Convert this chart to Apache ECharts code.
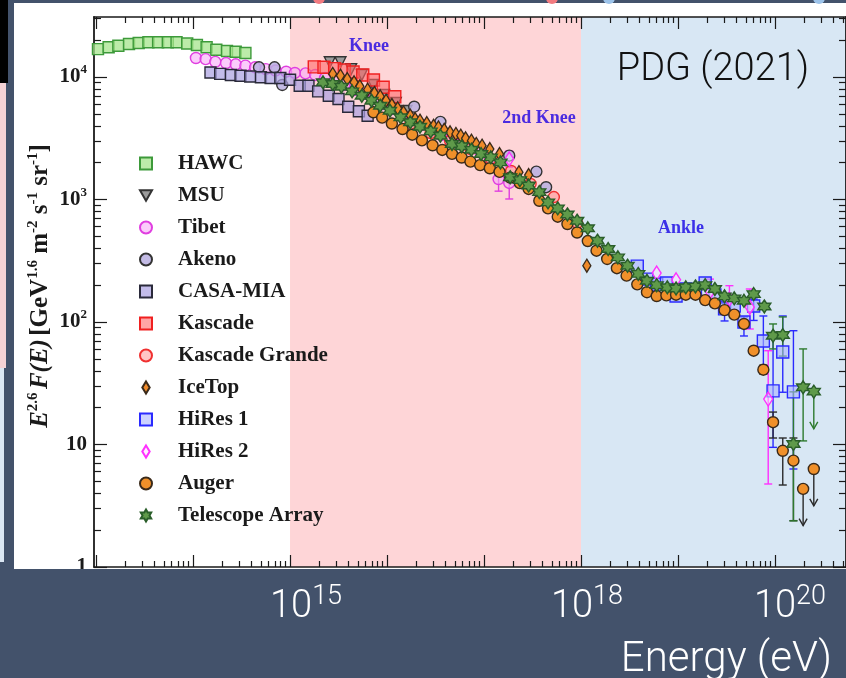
<!DOCTYPE html>
<html>
<head>
<meta charset="utf-8">
<script src="https://cdn.jsdelivr.net/npm/echarts@6/dist/echarts.min.js"></script>
<style>
html,body{margin:0;padding:0;background:#fff;}
#c{width:846px;height:678px;}
</style>
</head>
<body>
<div id="c"></div>
<script>
// Cosmic-ray all-particle spectrum, E^2.6 F(E) in GeV^1.6 m^-2 s^-1 sr^-1.
// Energies are kept as log10(E / eV).

const hawcLgE = [13.02,13.13,13.23,13.34,13.44,13.54,13.64,13.74,13.83,13.94,14.04,14.14,14.24,14.35,14.44,14.54];
const hawcFlux = [16900,17500,18000,18600,18950,19200,19200,19200,19200,18800,18250,17500,16700,16300,16100,15700];

const msuLgE = [15.41,15.52,15.63,15.74,15.86,15.97,16.09,16.20];
const msuFlux = [13200,13200,11600,10400,8610,7130,6140,5280];

const tibetLgE = [14.03,14.13,14.23,14.34,14.44,14.54,14.64,14.75,14.85,14.96,15.05,15.16,15.26,15.36,15.46,15.56,15.66,15.76,15.86,15.96,16.06,16.16,16.26,16.36,16.46,16.56,16.66,16.76,16.86,16.96,17.06,17.15,17.26];
const tibetFlux = [14300,14000,13300,13000,12700,12400,12000,11600,11300,11050,10800,10700,10400,9810,9280,8600,7830,7270,6610,6020,5480,4890,4460,4060,3690,3360,3060,2840,2630,2440,2140,1470,1365];
const tibetErr = [[17.15,1770,1170],[17.26,1610,1010]];

const akenoLgE = [14.68,14.84,14.92,16.28,16.55,17.26,17.54,17.64];
const akenoFlux = [12000,12000,8610,5720,4300,2280,1690,1260];

const casaLgE = [14.18,14.28,14.39,14.49,14.59,14.70,14.80,14.90,15.00,15.10,15.19,15.29,15.40,15.50,15.60,15.71,15.80];
const casaFlux = [10900,10600,10400,10250,10100,9950,9810,9810,9510,8490,8490,7640,7030,6610,5720,5250,4830];

const kascadeLgE = [15.25,15.35,15.46,15.56,15.65,15.75,15.86,15.96,16.08];
const kascadeFlux = [12100,12000,11700,11400,11000,10400,9460,8240,6900];

const kgLgE = [16.24,16.45,16.65,16.86,17.07,17.28,17.48,17.72,17.96];
const kgFlux = [4130,3490,3000,2580,2140,1710,1340,1047,643];

const icetopLgE = [15.44,15.52,15.59,15.66,15.72,15.80,15.87,15.93,15.99,16.05,16.11,16.17,16.24,16.29,16.34,16.41,16.48,16.53,16.59,16.65,16.71,16.76,16.81,16.87,16.92,16.98,17.06,17.16,17.36,17.46,18.06];
const icetopFlux = [10600,10250,9630,9060,8400,7880,7400,6950,6410,5910,5550,5150,4830,4540,4400,4210,4000,3880,3710,3540,3430,3320,3160,3020,2840,2750,2580,2350,1670,1585,288];

const hires1LgE = [18.58,18.68,18.78,18.88,18.98,19.08,19.18,19.28,19.38,19.48,19.58,19.68,19.78,19.88,19.98,20.08,20.19];
const hires1Flux = [286,224,204,208,163,186,179,208,166,128,135,100,135,70.0,27.4,56.9,26.9];
const hires1Err = [[19.48,148,102],[19.68,110,76.9],[19.78,154,103],[19.88,112,44.0],[19.98,77.3,9.48],[20.08,112,26.7],[20.19,84.9,6.31]];

const hires2LgE = [17.26,18.78,18.98,19.33,19.53,19.74,19.93];
const hires2Flux = [2140,251,221,176,154,132,23.5];
const hires2Err = [[17.26,2490,1840],[19.33,224,140],[19.53,198,116],[19.74,186,87.7],[19.93,58.3,4.76]];

const augerLgE = [15.86,15.95,16.05,16.16,16.26,16.36,16.47,16.57,16.67,16.77,16.86,16.96,17.06,17.16,17.27,17.37,17.46,17.57,17.66,17.76,17.86,17.96,18.07,18.16,18.27,18.37,18.47,18.58,18.68,18.78,18.88,18.98,19.08,19.18,19.28,19.38,19.48,19.58,19.68,19.78,19.88,19.98,20.08,20.19,20.29,20.40];
const augerFlux = [5150,4660,4170,3760,3380,3040,2770,2540,2360,2200,2040,1910,1800,1680,1510,1360,1220,977,847,724,631,538,458,382,327,275,239,203,175,163,165,167,167,167,151,142,125,115,96.4,58.3,40.8,15.2,8.89,7.38,4.34,6.31];
const augerErr = [[19.88,44.5,37.5],[19.98,18.4,11.3],[20.08,11.3,4.67],[20.19,11.3,2.39]];
const augerLimits = [[20.29,4.34,2.18],[20.40,6.31,3.16]];

const taLgE = [15.34,15.44,15.53,15.64,15.74,15.84,15.93,16.03,16.14,16.24,16.34,16.45,16.55,16.67,16.77,16.87,16.97,17.07,17.17,17.27,17.37,17.46,17.57,17.66,17.76,17.86,17.96,18.07,18.17,18.28,18.38,18.48,18.59,18.68,18.78,18.89,18.98,19.08,19.18,19.28,19.38,19.48,19.58,19.68,19.78,19.89,19.98,20.08,20.19,20.29,20.40];
const taFlux = [9060,8770,8340,7640,7030,6410,5830,5310,4690,4270,3930,3600,3320,2840,2720,2550,2350,2210,2010,1520,1440,1300,1150,948,847,755,671,582,461,394,337,288,247,217,200,192,188,192,195,200,186,162,156,149,169,134,77.3,78.3,10.1,29.3,27.0];
const taErr = [[19.98,96.4,60.3],[20.08,110,52.7],[20.19,26.9,2.38],[20.29,60.3,10.7]];
const taLimits = [[20.40,27.0,13.4]];

// axis decades
const xDecades = [13,14,15,16,17,18,19,20];
const yDecades = [0,1,2,3,4];
const xLabelDecades = [15,18,20];

// ---------------------------------------------------------------------------
const toE = lg => Math.pow(10, lg);
const points = (lg, f) => lg.map((e, i) => [toE(e), f[i]]);
const ranges = rows => rows.map(r => [toE(r[0]), r[1], r[2]]);

const X_MIN = Math.pow(10, 12.979), X_MAX = Math.pow(10, 20.732);
const Y_MIN = 1, Y_MAX = Math.pow(10, 4.49);

const xMajor = xDecades.map(toE);
const xMinor = [];
for (let n = 12; n <= 20; n++) for (let k = 2; k <= 9; k++) {
  const v = k * Math.pow(10, n);
  if (v > X_MIN && v < X_MAX) xMinor.push(v);
}
const yMajor = yDecades.map(toE);
const yMinor = [];
for (let n = 0; n <= 4; n++) for (let k = 2; k <= 9; k++) {
  const v = k * Math.pow(10, n);
  if (v < Y_MAX) yMinor.push(v);
}

const SERIF = '"Liberation Serif", "DejaVu Serif", serif';
const SANS = 'Roboto, "Liberation Sans", sans-serif';
const INK = '#1a1a1a';

// marker outlines
const hexagram = 'path://M0,-10 L2.9,-5 L8.66,-5 L5.8,0 L8.66,5 L2.9,5 L0,10 L-2.9,5 L-8.66,5 L-5.8,0 L-8.66,-5 L-2.9,-5 Z';
const downTriangle = 'path://M-5,-4.3 L5,-4.3 L0,4.3 Z';
const tallDiamond = 'path://M0,-13 L8,0 L0,13 L-8,0 Z';

const styles = [
  {name:'HAWC', lg:hawcLgE, f:hawcFlux, symbol:'rect', size:11, fill:'rgba(165,228,140,0.75)', stroke:'#3d9a3a'},
  {name:'MSU', lg:msuLgE, f:msuFlux, symbol:downTriangle, size:11, fill:'#9c9c9c', stroke:'#333'},
  {name:'Tibet', lg:tibetLgE, f:tibetFlux, symbol:'circle', size:11, fill:'rgba(248,170,248,0.6)', stroke:'#e03ee0'},
  {name:'Akeno', lg:akenoLgE, f:akenoFlux, symbol:'circle', size:11, fill:'rgba(185,175,225,0.85)', stroke:'#333'},
  {name:'CASA-MIA', lg:casaLgE, f:casaFlux, symbol:'rect', size:11, fill:'rgba(170,160,225,0.7)', stroke:'#2a2a3a'},
  {name:'Kascade', lg:kascadeLgE, f:kascadeFlux, symbol:'rect', size:12, fill:'rgba(255,105,105,0.6)', stroke:'#f02020'},
  {name:'Kascade Grande', lg:kgLgE, f:kgFlux, symbol:'circle', size:11, fill:'rgba(255,140,140,0.5)', stroke:'#f03030'},
  {name:'IceTop', lg:icetopLgE, f:icetopFlux, symbol:tallDiamond, size:[8,13], fill:'#ef8a2a', stroke:'#3a2a1a'},
  {name:'HiRes 1', lg:hires1LgE, f:hires1Flux, symbol:'rect', size:12, fill:'rgba(170,180,255,0.6)', stroke:'#2a2aff'},
  {name:'HiRes 2', lg:hires2LgE, f:hires2Flux, symbol:tallDiamond, size:[9,14], fill:'rgba(255,225,255,0.5)', stroke:'#ff30ff'},
  {name:'Auger', lg:augerLgE, f:augerFlux, symbol:'circle', size:11, fill:'#f0902a', stroke:'#3a2a1a'},
  {name:'Telescope Array', lg:taLgE, f:taFlux, symbol:hexagram, size:13, fill:'#5f9a4a', stroke:'#2a5e2a'}
];

function errorBars(color) {
  return function (params, api) {
    const e = api.value(0);
    const a = api.coord([e, api.value(1)]);
    const b = api.coord([e, api.value(2)]);
    const st = {stroke: color, lineWidth: 1.4};
    return {type: 'group', children: [
      {type: 'line', shape: {x1: a[0], y1: a[1], x2: b[0], y2: b[1]}, style: st},
      {type: 'line', shape: {x1: a[0] - 4, y1: a[1], x2: a[0] + 4, y2: a[1]}, style: st},
      {type: 'line', shape: {x1: b[0] - 4, y1: b[1], x2: b[0] + 4, y2: b[1]}, style: st}
    ]};
  };
}
function limitArrows(color) {
  return function (params, api) {
    const e = api.value(0);
    const a = api.coord([e, api.value(1)]);
    const b = api.coord([e, api.value(2)]);
    const st = {stroke: color, lineWidth: 1.4, fill: 'none'};
    return {type: 'group', children: [
      {type: 'line', shape: {x1: a[0], y1: a[1], x2: b[0], y2: b[1]}, style: st},
      {type: 'polyline', shape: {points: [[b[0] - 4, b[1] - 7], [b[0], b[1]], [b[0] + 4, b[1] - 7]]}, style: st}
    ]};
  };
}
function customSeries(id, rows, render) {
  return {type: 'custom', id: id, data: ranges(rows), renderItem: render, encode: {x: 0, y: [1, 2]},
          silent: true, z: 2, clip: false};
}

const series = [];
styles.forEach((s, i) => {
  series.push({
    type: 'scatter', name: s.name, data: points(s.lg, s.f),
    symbol: s.symbol, symbolSize: s.size, symbolKeepAspect: false,
    itemStyle: {color: s.fill, borderColor: s.stroke, borderWidth: 1.4, opacity: 1},
    z: 3 + i * 0.01, silent: true, animation: false,
    markArea: i === 0 ? {
      silent: true, z: 0,
      data: [
        [{xAxis: 1e15, itemStyle: {color: '#fed5d7'}}, {xAxis: 1e18}],
        [{xAxis: 1e18, itemStyle: {color: '#d8e7f4'}}, {xAxis: X_MAX}]
      ]
    } : undefined
  });
});
series.push(customSeries('tibetErr', tibetErr, errorBars('#e03ee0')));
series.push(customSeries('hires1Err', hires1Err, errorBars('#2a2aff')));
series.push(customSeries('hires2Err', hires2Err, errorBars('#ff30ff')));
series.push(customSeries('augerErr', augerErr, errorBars('#2a2a2a')));
series.push(customSeries('augerLim', augerLimits, limitArrows('#2a2a2a')));
series.push(customSeries('taErr', taErr, errorBars('#2e7a2e')));
series.push(customSeries('taLim', taLimits, limitArrows('#2e7a2e')));

function xAxisDef(position, ticks, len, showLine) {
  return {type: 'log', logBase: 10, min: X_MIN, max: X_MAX, position: position,
    axisLine: {show: showLine, onZero: false, lineStyle: {color: INK, width: 1.5}},
    axisTick: {show: true, inside: true, length: len, customValues: ticks, lineStyle: {color: INK, width: 1.2}},
    axisLabel: {show: false}, splitLine: {show: false}, minorTick: {show: false}};
}
function yAxisDef(position, ticks, len, showLine, labels) {
  return {type: 'log', logBase: 10, min: Y_MIN, max: Y_MAX, position: position,
    axisLine: {show: showLine, onZero: false, lineStyle: {color: INK, width: 1.8}},
    axisTick: {show: true, inside: true, length: len, customValues: ticks, lineStyle: {color: INK, width: 1.2}},
    axisLabel: labels ? {
      show: true, customValues: yMajor, margin: 7,
      formatter: v => {
        const n = Math.round(Math.log10(v));
        return n >= 2 ? '{b|10}{s|' + n + '}' : '{b|' + Math.round(v) + '}';
      },
      rich: {
        b: {fontFamily: SERIF, fontWeight: 'bold', fontSize: 21, color: INK, lineHeight: 27},
        s: {fontFamily: SERIF, fontWeight: 'bold', fontSize: 13, color: INK, verticalAlign: 'top', lineHeight: 13}
      }
    } : {show: false},
    splitLine: {show: false}, minorTick: {show: false}};
}

const chart = echarts.init(document.getElementById('c'), null, {renderer: 'canvas'});

const titleRich = {
  i: {fontFamily: SERIF, fontWeight: 'bold', fontStyle: 'italic', fontSize: 25, fill: INK, lineHeight: 31},
  b: {fontFamily: SERIF, fontWeight: 'bold', fontSize: 25, fill: INK, lineHeight: 31},
  s: {fontFamily: SERIF, fontWeight: 'bold', fontSize: 15, fill: INK, verticalAlign: 'top', lineHeight: 15}
};
const bigRich = {
  a: {fontFamily: SANS, fontWeight: 300, fontSize: 38, fill: '#ffffff', lineHeight: 46},
  s: {fontFamily: SANS, fontWeight: 300, fontSize: 27, fill: '#ffffff', verticalAlign: 'top', lineHeight: 24}
};
const SLATE = '#43526b';

const decorations = [
  // slide surround
  {type: 'rect', shape: {x: 0, y: 0, width: 14, height: 678}, style: {fill: SLATE}, z: 50, silent: true},
  {type: 'rect', shape: {x: 0, y: 0, width: 846, height: 3}, style: {fill: SLATE}, z: 50, silent: true},
  {type: 'rect', shape: {x: 0, y: 569, width: 846, height: 109}, style: {fill: SLATE}, z: 50, silent: true},
  {type: 'rect', shape: {x: 0, y: 0, width: 8, height: 83}, style: {fill: '#000'}, z: 51, silent: true},
  {type: 'rect', shape: {x: 0, y: 83, width: 6, height: 285}, style: {fill: '#f5d2d5'}, z: 51, silent: true},
  {type: 'rect', shape: {x: 0, y: 368, width: 4, height: 194}, style: {fill: '#dbe7f3'}, z: 51, silent: true},
  {type: 'circle', shape: {cx: 319, cy: -2, r: 6}, style: {fill: '#f27a80'}, z: 51, silent: true},
  {type: 'circle', shape: {cx: 552, cy: -2, r: 6}, style: {fill: '#f27a80'}, z: 51, silent: true},
  {type: 'circle', shape: {cx: 609, cy: -2, r: 6}, style: {fill: '#9cc3ea'}, z: 51, silent: true},
  {type: 'circle', shape: {cx: 819, cy: -2, r: 6}, style: {fill: '#9cc3ea'}, z: 51, silent: true},
  // axis title
  {type: 'text', x: 41, y: 286, rotation: Math.PI / 2, z: 20, silent: true,
   style: {text: '{i|E}{s|2.6} {i|F(E)} {b|[GeV}{s|1.6}{b| m}{s|-2}{b| s}{s|-1}{b| sr}{s|-1}{b|]}',
           rich: titleRich, align: 'center', verticalAlign: 'middle'}},
  // region annotations
  {type: 'text', x: 369, y: 46, z: 20, silent: true,
   style: {text: 'Knee', font: 'bold 18px ' + SERIF, fill: '#4b2be0', align: 'center', verticalAlign: 'middle'}},
  {type: 'text', x: 539, y: 118, z: 20, silent: true,
   style: {text: '2nd Knee', font: 'bold 18px ' + SERIF, fill: '#4b2be0', align: 'center', verticalAlign: 'middle'}},
  {type: 'text', x: 681, y: 228, z: 20, silent: true,
   style: {text: 'Ankle', font: 'bold 18px ' + SERIF, fill: '#3b30e8', align: 'center', verticalAlign: 'middle'}},
  {type: 'text', x: 713, y: 70, z: 20, silent: true,
   style: {text: 'PDG (2021)', font: '300 38px ' + SANS, fill: '#111', align: 'center', verticalAlign: 'middle'}},
  // energy caption
  {type: 'text', x: 832, y: 660, z: 60, silent: true,
   style: {text: 'Energy (eV)', font: '300 42px ' + SANS, fill: '#ffffff', align: 'right', verticalAlign: 'middle'}}
];

const option = {
  animation: false,
  backgroundColor: '#ffffff',
  grid: {left: 94, right: 0, top: 17, bottom: 111, containLabel: false},
  xAxis: [
    xAxisDef('bottom', xMajor, 12, true),
    xAxisDef('bottom', xMinor, 6, false),
    xAxisDef('top', xMajor, 12, true),
    xAxisDef('top', xMinor, 6, false)
  ],
  yAxis: [
    yAxisDef('left', yMajor, 13, true, true),
    yAxisDef('left', yMinor, 7, false, false),
    yAxisDef('right', yMajor, 13, true, false),
    yAxisDef('right', yMinor, 7, false, false)
  ],
  legend: {
    orient: 'vertical', left: 134, top: 148, itemWidth: 12, itemHeight: 12, itemGap: 11,
    selectedMode: false, data: styles.map(s => s.name),
    textStyle: {fontFamily: SERIF, fontWeight: 'bold', fontSize: 21, color: INK, lineHeight: 21,
                padding: [0, 0, 0, 21]}
  },
  series: series,
  graphic: decorations
};
chart.setOption(option);

// decade labels under the plot, centred a little right of their ticks
const labelShift = {15: 16, 18: 6, 20: 15};
const labelGraphics = xLabelDecades.map(n => {
  const px = chart.convertToPixel({xAxisIndex: 0}, toE(n));
  return {type: 'text', x: px + labelShift[n], y: 607, z: 60, silent: true,
          style: {text: '{a|10}{s|' + n + '}', rich: bigRich, align: 'center', verticalAlign: 'middle'}};
});
chart.setOption({graphic: decorations.concat(labelGraphics)});
</script>
</body>
</html>
